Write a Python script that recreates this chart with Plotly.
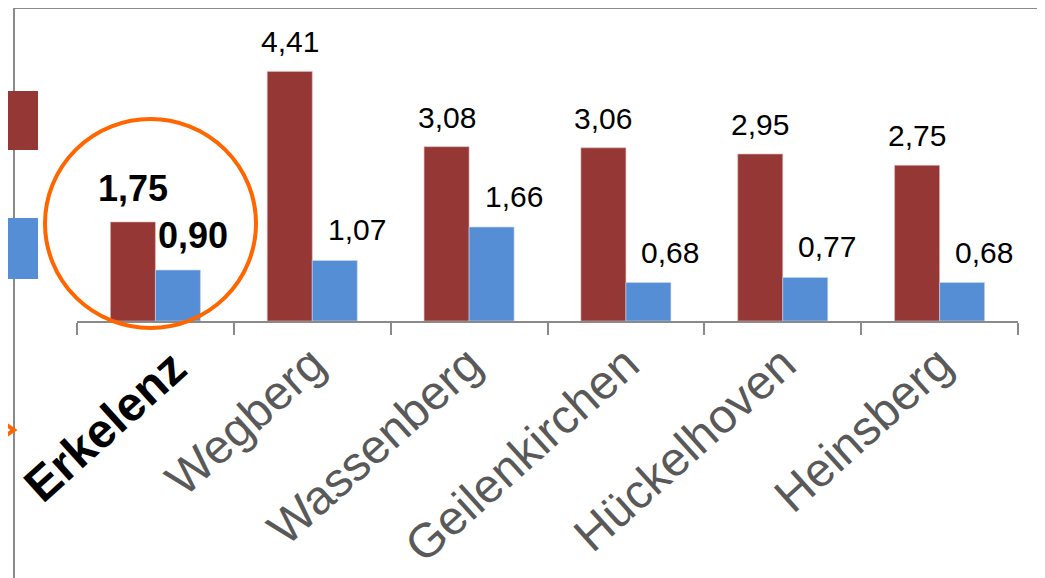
import plotly.graph_objects as go

categories = ["Erkelenz", "Wegberg", "Wassenberg", "Geilenkirchen", "Hückelhoven", "Heinsberg"]
series_red = [1.75, 4.41, 3.08, 3.06, 2.95, 2.75]
series_blue = [0.90, 1.07, 1.66, 0.68, 0.77, 0.68]
highlight = "Erkelenz"

RED = "#953735"
BLUE = "#558ED5"
ORANGE = "#FF6600"
GRAY = "#8A8A8A"
FONT = "Liberation Sans, Arial, sans-serif"

def fmt(v):
    return f"{v:.2f}".replace(".", ",")

fig = go.Figure()
fig.add_trace(go.Bar(x=categories, y=series_red, marker=dict(color=RED, line=dict(width=0.6, color="#E6B9B8")), hoverinfo="skip"))
fig.add_trace(go.Bar(x=categories, y=series_blue, marker=dict(color=BLUE, line=dict(width=0.6, color="#C6D9F1")), hoverinfo="skip"))

# the highlighted category label is drawn as a bold annotation below
ticktext = ["" if c == highlight else c for c in categories]

# page body has an 8px margin; the figure is sized to fit the window
OFF = 8
W, H = 1045 - OFF, 578 - OFF
L, T = 77 - OFF, 38 - OFF
pw, ph = 941, 283
R = W - L - pw
B = H - T - ph

def px(x):
    return (x - OFF - L) / pw

def py(y):
    return (T + ph - (y - OFF)) / ph

annotations = []
for c, r, b in zip(categories, series_red, series_blue):
    hl = c == highlight
    size = 36 if hl else 30
    txt_r = f"<b>{fmt(r)}</b>" if hl else fmt(r)
    txt_b = f"<b>{fmt(b)}</b>" if hl else fmt(b)
    annotations.append(dict(x=c, y=r, xref="x", yref="y", text=txt_r, showarrow=False,
                            xanchor="center", yanchor="bottom", xshift=-22.5, yshift=11,
                            font=dict(family=FONT, size=size, color="#000000")))
    annotations.append(dict(x=c, y=b, xref="x", yref="y", text=txt_b, showarrow=False,
                            xanchor="center", yanchor="bottom", xshift=22.5 + (15 if hl else 22), yshift=12,
                            font=dict(family=FONT, size=size, color="#000000")))
    if hl:
        annotations.append(dict(x=c, y=py(426), xref="x", yref="paper", text=f"<b>{c}</b>",
                                showarrow=False, textangle=-42, xanchor="center", yanchor="middle",
                                xshift=-51, font=dict(family=FONT, size=48, color="#000000")))

shapes = [
    # frame lines
    dict(type="line", xref="paper", yref="paper", x0=px(14), x1=px(1050), y0=py(8), y1=py(8),
         line=dict(color=GRAY, width=2), layer="below"),
    dict(type="line", xref="paper", yref="paper", x0=px(14), x1=px(14), y0=py(8), y1=py(585),
         line=dict(color=GRAY, width=2), layer="below"),
    # cropped legend keys
    dict(type="rect", xref="paper", yref="paper", x0=px(-2), x1=px(38), y0=py(150), y1=py(91),
         fillcolor=RED, line=dict(width=0)),
    dict(type="rect", xref="paper", yref="paper", x0=px(-2), x1=px(38), y0=py(279), y1=py(218),
         fillcolor=BLUE, line=dict(width=0)),
    # orange arrow head
    dict(type="path", xref="paper", yref="paper",
         path=f"M {px(-2)},{py(419)} L {px(14)},{py(430)} L {px(-2)},{py(441)}",
         line=dict(color=ORANGE, width=4)),
    # highlight circle
    dict(type="circle", xref="paper", yref="paper", x0=px(45), x1=px(256), y0=py(328), y1=py(119),
         line=dict(color=ORANGE, width=4)),
]

fig.update_layout(
    width=W, height=H,
    margin=dict(l=L, r=R, t=T, b=B, autoexpand=False),
    paper_bgcolor="white", plot_bgcolor="white",
    barmode="group", bargap=0.426, bargroupgap=0,
    showlegend=False,
    annotations=annotations,
    shapes=shapes,
    xaxis=dict(
        range=[-0.5, len(categories) - 0.5],
        tickmode="array", tickvals=categories, ticktext=ticktext,
        tickangle=-42,
        tickfont=dict(family=FONT, size=48, color="#595959"),
        ticklabelstandoff=-6,
        showline=True, linecolor=GRAY, linewidth=2,
        ticks="outside", ticklen=12, tickcolor=GRAY, tickwidth=2,
        tickson="boundaries", showgrid=False, zeroline=False,
        automargin=False, fixedrange=True,
    ),
    yaxis=dict(range=[0, 5], visible=False, showgrid=False, zeroline=False, fixedrange=True),
)

fig.write_html("out.html")
